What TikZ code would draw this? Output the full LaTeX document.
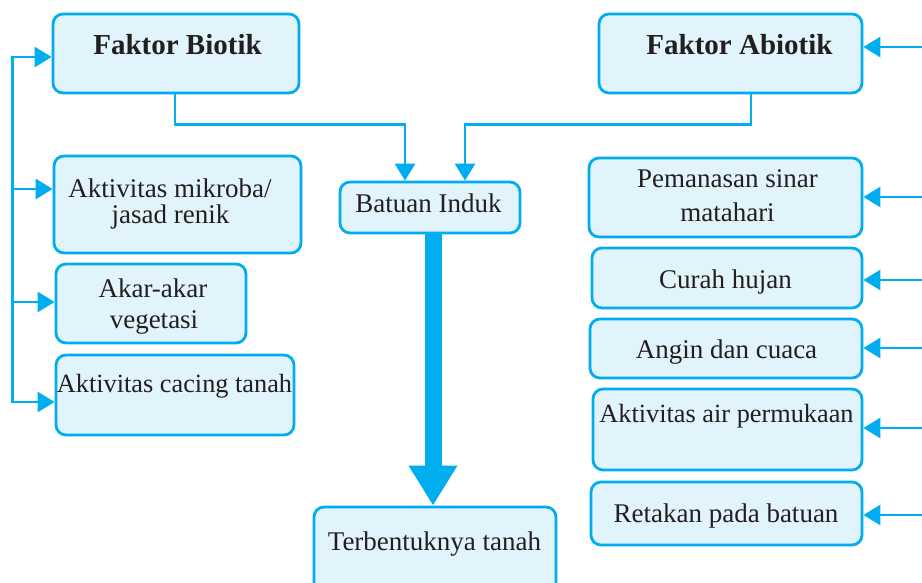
\documentclass[tikz,border=0pt]{standalone}
\usepackage{fontspec}
\setmainfont{Liberation Serif}
\usetikzlibrary{arrows.meta}
\definecolor{cyanc}{HTML}{00AEEF}
\definecolor{fillc}{HTML}{E1F3FB}
\definecolor{inkc}{HTML}{231F20}
\begin{document}
\begin{tikzpicture}[x=1pt,y=-1pt,
  box/.style={draw=cyanc, fill=fillc, line width=2.8pt, rounded corners=10pt, inner sep=0pt, rectangle},
  txt/.style={font=\fontsize{27}{30}\selectfont, inner sep=0pt, anchor=base, text=inkc},
  stxt/.style={txt, font=\fontsize{26.3}{30}\selectfont},
  btxt/.style={font=\fontsize{29}{32}\selectfont\bfseries, inner sep=0pt, anchor=base, text=inkc},
  conn/.style={draw=cyanc, line width=2.8pt},
  arr/.style={conn, -{Triangle[length=17pt,width=20pt]}},
]
\useasboundingbox (0,0) rectangle (922,583);
\clip (0,0) rectangle (922,583);

% boxes
\node[box, minimum width=246pt, minimum height=79pt] (biotik) at (176,53.5) {};
\node[box, minimum width=247pt, minimum height=97pt] (mikroba) at (177.5,204.5) {};
\node[box, minimum width=190pt, minimum height=79pt] (akar) at (151,303.5) {};
\node[box, minimum width=238pt, minimum height=80pt] (cacing) at (175,395) {};
\node[box, minimum width=180pt, minimum height=51pt] (batuan) at (430,207.5) {};
\node[box, minimum width=242pt, minimum height=112pt] (terb) at (435,563) {};
\node[box, minimum width=263pt, minimum height=79pt] (abiotik) at (730.5,53.5) {};
\node[box, minimum width=273pt, minimum height=79pt] (peman) at (725.5,197.5) {};
\node[box, minimum width=270pt, minimum height=60pt] (curah) at (727,278) {};
\node[box, minimum width=272pt, minimum height=59pt] (angin) at (726,348.5) {};
\node[box, minimum width=269pt, minimum height=81pt] (air) at (727.5,429.5) {};
\node[box, minimum width=271pt, minimum height=63pt] (retak) at (726.5,513.5) {};

% texts
\node[btxt] (tbiotik) at (177.5,55) {Faktor Biotik};
\node[btxt] (tabiotik) at (739.5,55) {Faktor Abiotik};
\node[txt] (tmik1) at (170,197) {Aktivitas mikroba/};
\node[txt] (tmik2) at (170.5,223) {jasad renik};
\node[txt] (takar1) at (153,297) {Akar-akar};
\node[txt] (takar2) at (154,328) {vegetasi};
\node[stxt] (tcacing) at (174.5,392) {Aktivitas cacing tanah};
\node[txt] (tbatuan) at (428.5,213) {Batuan Induk};
\node[txt] (tterb) at (434.5,550) {Terbentuknya tanah};
\node[txt] (tpem1) at (727.5,188) {Pemanasan sinar};
\node[txt] (tpem2) at (727.5,222) {matahari};
\node[txt] (tcurah) at (725.5,288) {Curah hujan};
\node[txt] (tangin) at (726.5,358) {Angin dan cuaca};
\node[stxt] (tair) at (726.5,422) {Aktivitas air permukaan};
\node[txt] (tretak) at (726,522) {Retakan pada batuan};

% left bracket
\coordinate (l1) at (12.5,57);
\coordinate (l2) at (12.5,189);
\coordinate (l3) at (12.5,302);
\coordinate (l4) at (12.5,402);
\draw[arr] (l4) -- (l1) -- (biotik.west |- l1);
\draw[arr] (l1) -- (l4) -- (cacing.west |- l4);
\draw[arr] (l2) -- (mikroba.west |- l2);
\draw[arr] (l3) -- (akar.west |- l3);

% right arrows
\coordinate (r1) at (922,47);
\coordinate (r2) at (922,197);
\coordinate (r3) at (922,280);
\coordinate (r4) at (922,348);
\coordinate (r5) at (922,428);
\coordinate (r6) at (922,515);
\draw[arr] (r1) -- (abiotik.east |- r1);
\draw[arr] (r2) -- (peman.east |- r2);
\draw[arr] (r3) -- (curah.east |- r3);
\draw[arr] (r4) -- (angin.east |- r4);
\draw[arr] (r5) -- (air.east |- r5);
\draw[arr] (r6) -- (retak.east |- r6);

% to Batuan Induk
\draw[arr] ([xshift=-1pt]biotik.south) -- ++(0,30.5) -| ([xshift=-25pt]batuan.north);
\draw[arr] ([xshift=20.5pt]abiotik.south) -- ++(0,30.5) -| ([xshift=35pt]batuan.north);

% big arrow
\coordinate (ax) at (433,0);
\draw[draw=cyanc, line width=17pt, -{Triangle[length=40pt,width=46pt]}] (batuan.south -| ax) -- (terb.north -| ax);
\end{tikzpicture}
\end{document}
